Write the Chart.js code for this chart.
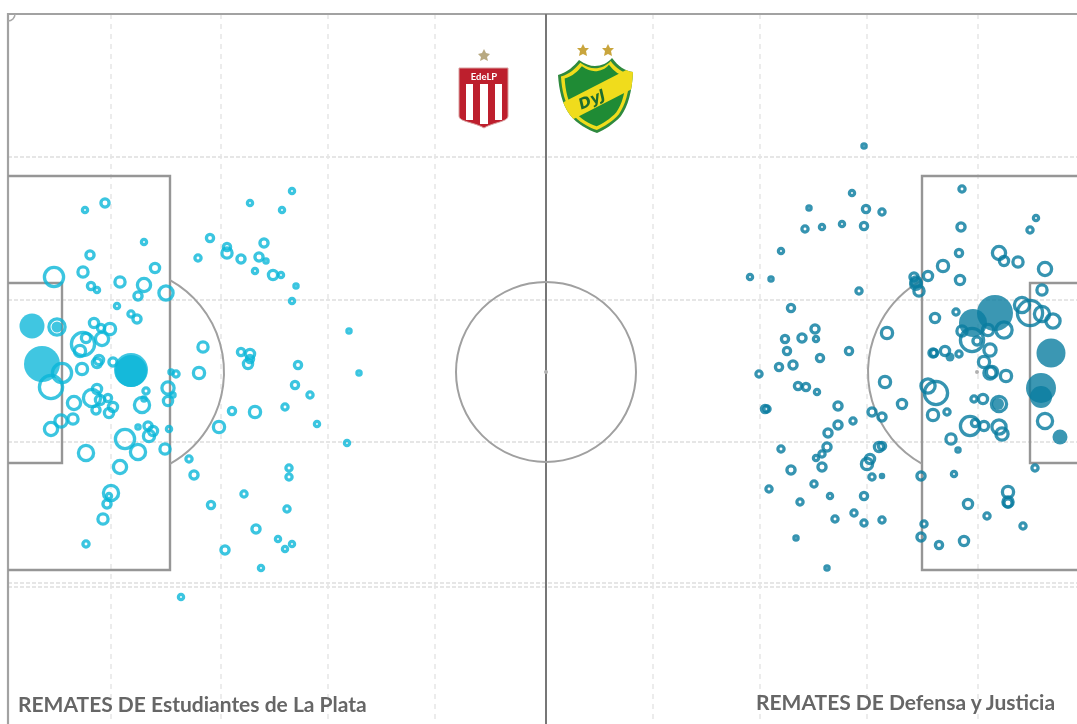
<!DOCTYPE html>
<html lang="es">
<head>
<meta charset="utf-8">
<title>Remates</title>
<script src="https://cdn.jsdelivr.net/npm/chart.js@4"></script>
<style>
html,body{margin:0;padding:0;background:#fff;width:1077px;height:724px;overflow:hidden}
#wrap{position:relative;width:1077px;height:724px}
canvas{position:absolute;left:0;top:0;filter:blur(.35px)}
.lbl{position:absolute;font:700 21px Lato,sans-serif;color:#666;white-space:nowrap;line-height:24px}
#crests{position:absolute;left:0;top:0;filter:blur(.6px)}
</style>
</head>
<body>
<div id="wrap">
<canvas id="c" width="1077" height="724"></canvas>
<svg id="crests" width="1077" height="724" viewBox="0 0 1077 724">
  <defs>
    <path id="dj" d="M558 75 C568 72 574 66 579 60 C585 64 590 66 595 66 C601 66 608 63 612 58 C618 66 625 71 633 72 C632 92 628 106 621 116 C614 124 604 130 597 133 C588 130 577 124 570 115 C562 104 559 90 558 75Z"/>
    <clipPath id="djc"><use href="#dj"/></clipPath>
  </defs>
  <polygon fill="#b8a981" points="484,49 486,53 490,54 487,57 488,61 484,59 480,61 481,57 478,54 482,53"/>
  <path d="M459 68 H508 V116 C508 122 494 122 484 128 C474 122 459 122 459 116Z" fill="#bd1f2d" stroke="#d9a0a0" stroke-width="1"/>
  <rect x="466" y="84" width="7" height="36" fill="#fff"/><rect x="480" y="84" width="8" height="40" fill="#fff"/><rect x="495" y="84" width="7" height="36" fill="#fff"/>
  <text x="484" y="80" text-anchor="middle" font-family="Lato,sans-serif" font-weight="700" font-size="9.5" fill="#fff">EdeLP</text>
  <polygon fill="#c9a53d" points="583,44 585,48 589,48 586,51 587,56 583,54 579,56 580,51 577,48 581,48"/>
  <polygon fill="#c9a53d" points="608,44 610,48 614,48 611,51 612,56 608,54 604,56 605,51 602,48 606,48"/>
  <use href="#dj" fill="#2f8a3e"/>
  <g clip-path="url(#djc)">
    <use href="#dj" fill="#f0dc1c" transform="translate(595 95) scale(.92) translate(-595 -95)"/>
    <use href="#dj" fill="#1f8b35" transform="translate(595 95) scale(.82) translate(-595 -95)"/>
    <polygon fill="#f0dc1c" points="556,106 634,66 634,88 556,128"/>
  </g>
  <text x="0" y="0" transform="translate(594 104) rotate(-24)" text-anchor="middle" font-family="DejaVu Sans,sans-serif" font-style="italic" font-weight="700" font-size="15" fill="#1d6d2f">DyJ</text>
</svg>
<div class="lbl" style="left:18px;top:692px">REMATES DE Estudiantes de La Plata</div>
<div class="lbl" style="left:756px;top:690px">REMATES DE Defensa y Justicia</div>
</div>
<script>
// Pitch units: x from the left goal line, y from the halfway axis (positive = up)
const gridX = [103,213,320,427,645,752,859,970];
const gridY = [215,72,-70,-211,-215];

const estShotX = [77,97,136,82,75,46,147,83,89,112,136,130,158,109,123,129,86,102,94,75,78,72,93,49,195,105,91,89,74,54,43,168,191,138,160,89,100,84,92,165,160,134,136,66,105,88,101,224,65,53,43,130,140,145,141,161,211,117,130,157,78,112,181,186,103,101,99,95,78,203,217,284,242,274,202,219,219,190,233,256,251,258,247,265,273,288,284,341,233,242,242,240,290,287,351,163,302,247,277,309,339,281,281,236,279,248,270,284,277,253,173];
const estShotY = [162,169,130,117,100,95,104,86,82,90,87,76,79,66,58,53,49,43,33,28,34,21,44,45,25,10,12,9,3,-1,-15,-2,-1,-19,-16,-17,-26,-26,-28,-23,-29,-33,-27,-31,-35,-38,-41,-39,-47,-49,-57,-55,-54,-59,-64,-57,-55,-67,-80,-77,-81,-95,-87,-103,-121,-124,-132,-147,-172,-133,-178,181,169,162,134,125,119,114,113,129,115,111,101,97,97,86,71,41,20,18,13,8,7,-13,-1,0,-23,-40,-35,-52,-71,-96,-105,-122,-137,-157,-167,-172,-177,-196,-225];
const estShotXg = [.04,.055,.04,.055,.065,.11,.06,.05,.04,.065,.08,.055,.085,.04,.045,.055,.06,.07,.08,.13,.06,.07,.05,.095,.065,.055,.06,.06,.07,.11,.13,.045,.07,.045,.075,.06,.05,.10,.06,.035,.06,.09,.035,.08,.06,.055,.06,.05,.065,.075,.08,.035,.055,.06,.07,.04,.07,.11,.09,.065,.09,.08,.045,.055,.09,.04,.055,.065,.045,.05,.055,.04,.04,.04,.05,.05,.065,.045,.055,.055,.055,.035,.04,.06,.04,.035,.04,.035,.05,.06,.05,.06,.05,.05,.035,.035,.045,.07,.045,.04,.04,.045,.045,.045,.045,.055,.04,.04,.04,.04,.04];
const estGoalX = [24,49,34,123,123];
const estGoalY = [46,45,8,2,1];
const estGoalXg = [.125,.055,.18,.17,.16];

const defShotX = [856,844,801,858,874,797,814,834,856,773,742,763,851,783,807,808,777,794,779,841,812,879,906,908,911,751,771,785,798,790,809,759,757,877,894,830,864,874,845,830,820,871,874,819,814,808,773,862,859,783,814,864,874,806,761,913,822,856,792,827,846,856,874,916,913,788,819,954,953,1028,1022,951,935,920,952,991,996,1010,1037,1034,1014,1022,1034,1045,996,980,954,964,969,948,927,982,925,926,937,951,976,982,984,998,920,928,966,975,991,925,939,1037,962,967,976,991,994,943,950,1027,946,1000,1000,1000,960,979,1015,931,956];
const defShotY = [226,179,164,163,160,143,145,148,146,121,95,93,81,64,43,33,33,34,21,21,14,39,95,90,81,-2,5,7,-15,-14,-20,-37,-37,-10,-32,-34,-40,-45,-49,-53,-61,-75,-74,-75,-82,-86,-77,-87,-92,-98,-95,-105,-104,-112,-117,-104,-124,-124,-130,-147,-141,-151,-148,-152,-165,-166,-196,183,145,154,142,119,106,96,92,119,111,110,103,82,67,59,58,51,42,42,41,32,31,60,54,22,19,19,21,18,10,-1,0,-4,-14,-21,-27,-27,-32,-43,-40,-49,-54,-51,-54,-55,-62,-67,-78,-96,-102,-120,-130,-131,-132,-144,-154,-173,-169];
const defShotXg = [.035,.04,.035,.05,.045,.045,.04,.04,.05,.04,.04,.035,.045,.05,.055,.04,.05,.055,.05,.05,.05,.07,.055,.065,.065,.045,.05,.055,.05,.05,.04,.045,.05,.07,.06,.055,.055,.055,.045,.055,.055,.06,.05,.055,.045,.04,.045,.06,.07,.055,.055,.045,.03,.045,.045,.055,.04,.05,.045,.045,.045,.045,.045,.045,.055,.035,.035,.045,.055,.04,.045,.05,.07,.06,.06,.08,.06,.065,.08,.065,.09,.14,.09,.085,.095,.07,.065,.13,.055,.045,.06,.075,.055,.05,.06,.045,.07,.075,.07,.07,.085,.13,.045,.06,.09,.07,.045,.09,.11,.05,.06,.085,.075,.065,.035,.045,.04,.07,.065,.055,.06,.045,.045,.05,.06];
const defGoalX = [987,965,1043,1033,1033,1052,990,942,908];
const defGoalY = [59,49,19,-16,-25,-65,-32,15,88];
const defGoalXg = [.18,.14,.145,.15,.11,.075,.06,.045,.07];

const STROKE = 3.3;
const ringR = c => Math.max(c.raw.q * 100 - 1.4, 1);
const pack = (xs, ys, qs) => xs.map((x, i) => ({x, y: ys[i], q: qs[i]}));
const ringDs = (data, color) => ({
  data, clip: false, pointBackgroundColor: 'rgba(0,0,0,0)', pointBorderColor: color, pointBorderWidth: STROKE,
  pointRadius: ringR, pointHoverRadius: ringR
});
const goalDs = (data, color) => ({
  data, clip: false, pointBackgroundColor: color, pointBorderWidth: 0,
  pointRadius: c => c.raw.q * 100, pointHoverRadius: c => c.raw.q * 100
});

const pitch = {
  id: 'pitch',
  beforeDatasetsDraw(chart) {
    const {ctx, scales: {x, y}} = chart;
    const X = v => x.getPixelForValue(v), Y = v => y.getPixelForValue(v);
    const path = (pts, col, w) => {
      ctx.beginPath();
      pts.forEach((p, i) => i ? ctx.lineTo(X(p[0]), Y(p[1])) : ctx.moveTo(X(p[0]), Y(p[1])));
      ctx.strokeStyle = col; ctx.lineWidth = w; ctx.stroke();
    };
    const arc = (cx, cy, r, a, b, col, w) => {
      ctx.beginPath(); ctx.arc(X(cx), Y(cy), r * (x.width / (x.max - x.min)), a, b);
      ctx.strokeStyle = col; ctx.lineWidth = w; ctx.stroke();
    };
    const grey = '#969696';
    ctx.save();
    path([[0,-352],[0,358],[1069,358]], '#a2a2a2', 2.2);
    path([[538,-352],[538,358]], '#777', 2);
    path([[0,196],[162,196],[162,-198],[0,-198]], grey, 2.4);
    path([[0,89],[54,89],[54,-91],[0,-91]], grey, 2.4);
    path([[1069,196],[914,196],[914,-198],[1069,-198]], grey, 2.4);
    path([[1069,89],[1022,89],[1022,-91],[1069,-91]], grey, 2.4);
    const aL = Math.acos(51 / 105), aR = Math.PI - aL;
    arc(111, 0, 105, -aL, aL, '#a0a0a0', 2);
    arc(965, 0, 105, aR, 2 * Math.PI - aR, '#a0a0a0', 2);
    arc(538, 0, 90, 0, 2 * Math.PI, '#a0a0a0', 2);
    arc(0, 358, 7, 0, Math.PI / 2, '#a8a8a8', 1.5);
    [[538,0],[969,0]].forEach(p => {
      ctx.beginPath(); ctx.arc(X(p[0]), Y(p[1]), 2, 0, 2 * Math.PI);
      ctx.fillStyle = '#b0b0b0'; ctx.fill();
    });
    ctx.restore();
  }
};

new Chart(document.getElementById('c'), {
  type: 'scatter',
  data: {datasets: [
    goalDs(pack(estGoalX, estGoalY, estGoalXg), 'rgba(10,182,216,.78)'),
    ringDs(pack(estShotX, estShotY, estShotXg), 'rgba(10,182,216,.8)'),
    goalDs(pack(defGoalX, defGoalY, defGoalXg), 'rgba(10,125,160,.8)'),
    ringDs(pack(defShotX, defShotY, defShotXg), 'rgba(10,125,160,.82)')
  ]},
  plugins: [pitch],
  options: {
    responsive: false, animation: false, devicePixelRatio: 1,
    layout: {autoPadding: false, padding: {left: 8, top: 14, right: 0, bottom: 0}},
    plugins: {legend: {display: false}, tooltip: {enabled: false}, title: {display: false}},
    scales: {
      x: {type: 'linear', min: 0, max: 1069,
        afterBuildTicks: s => { s.ticks = gridX.map(value => ({value})); },
        grid: {color: '#ececec', lineWidth: 2, drawTicks: false},
        border: {display: false, dash: [5, 5]},
        ticks: {display: false}},
      y: {type: 'linear', min: -352, max: 358,
        afterBuildTicks: s => { s.ticks = gridY.map(value => ({value})); },
        grid: {color: '#e6e6e6', lineWidth: 2, drawTicks: false},
        border: {display: false, dash: [4, 2]},
        ticks: {display: false}}
    }
  }
});
</script>
</body>
</html>
